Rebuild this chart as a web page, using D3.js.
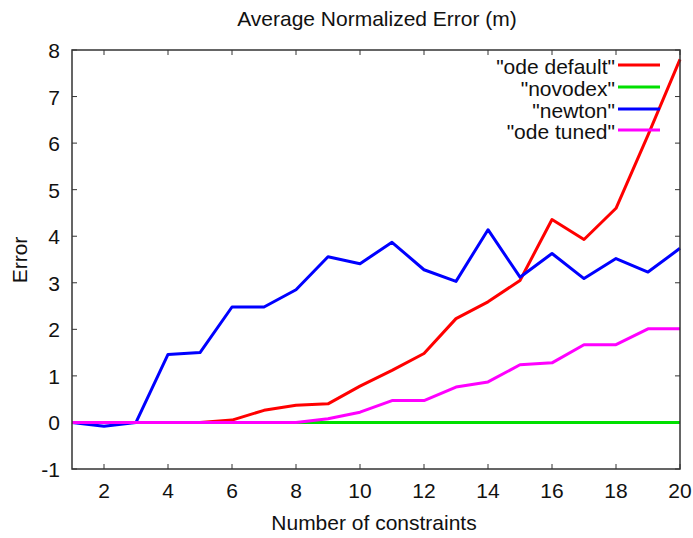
<!DOCTYPE html>
<html><head><meta charset="utf-8">
<script src="https://cdn.jsdelivr.net/npm/d3@7"></script>
<style>body{margin:0;background:#fff}svg{display:block}text{font-family:"Liberation Sans",Arial,sans-serif;fill:#111}</style>
</head><body><svg id="c" width="693" height="538"></svg>
<script>
const xs = [1,2,3,4,5,6,7,8,9,10,11,12,13,14,15,16,17,18,19,20];
const odeDefault = [0,0,0,0,0,0.05,0.26,0.37,0.40,0.78,1.12,1.48,2.23,2.59,3.05,4.36,3.93,4.60,6.17,7.80];
const novodex    = [0,0,0,0,0,0,0,0,0,0,0,0,0,0,0,0,0,0,0,0];
const newton     = [0,-0.08,0,1.46,1.50,2.48,2.48,2.85,3.56,3.41,3.87,3.28,3.03,4.14,3.12,3.63,3.09,3.52,3.23,3.74];
const odeTuned   = [0,0,0,0,0,0,0,0,0.08,0.22,0.47,0.47,0.76,0.87,1.24,1.28,1.67,1.67,2.01,2.01];
const seriesNames = ['"ode default"','"novodex"','"newton"','"ode tuned"'];
const seriesColors = ["#ff0000","#00e000","#0000ff","#ff00ff"];
const xTicks = [2,4,6,8,10,12,14,16,18,20];
const yTicks = [-1,0,1,2,3,4,5,6,7,8];

const svg = d3.select("#c");
const L=72,R=680,T=50,B=469;
const x = d3.scaleLinear().domain([1,20]).range([L,R]);
const y = d3.scaleLinear().domain([-1,8]).range([B,T]);
const fs = 21;

const tl=5;
const g = svg.append("g").attr("stroke","#333").attr("stroke-width",1);
xTicks.forEach(v=>{
  g.append("line").attr("x1",x(v)).attr("x2",x(v)).attr("y1",B).attr("y2",B-tl);
  g.append("line").attr("x1",x(v)).attr("x2",x(v)).attr("y1",T).attr("y2",T+tl);
});
yTicks.forEach(v=>{
  g.append("line").attr("x1",L).attr("x2",L+tl).attr("y1",y(v)).attr("y2",y(v));
  g.append("line").attr("x1",R).attr("x2",R-tl).attr("y1",y(v)).attr("y2",y(v));
});
svg.append("g").selectAll("text").data(xTicks).join("text")
  .attr("x",d=>x(d)).attr("y",498).attr("text-anchor","middle").attr("font-size",fs).text(d=>d);
svg.append("g").selectAll("text").data(yTicks).join("text")
  .attr("x",60).attr("y",d=>y(d)+8).attr("text-anchor","end").attr("font-size",fs).text(d=>d);

svg.append("text").attr("x",377).attr("y",26).attr("text-anchor","middle").attr("font-size",fs).text("Average Normalized Error (m)");
svg.append("text").attr("x",374).attr("y",530).attr("text-anchor","middle").attr("font-size",fs).text("Number of constraints");
svg.append("text").attr("transform","translate(27,260) rotate(-90)").attr("text-anchor","middle").attr("font-size",fs).text("Error");

const line = d3.line().x((d,i)=>x(xs[i])).y(d=>y(d));
const data=[odeDefault,novodex,newton,odeTuned];
data.forEach((s,i)=>{
  svg.append("path").attr("d",line(s)).attr("fill","none").attr("stroke",seriesColors[i]).attr("stroke-width",3).attr("stroke-linejoin","round");
});
const ly=[65,87,109,130];
seriesNames.forEach((n,i)=>{
  svg.append("text").attr("x",615).attr("y",ly[i]+9).attr("text-anchor","end").attr("font-size",fs).text(n);
  svg.append("line").attr("x1",618).attr("x2",660).attr("y1",ly[i]).attr("y2",ly[i]).attr("stroke",seriesColors[i]).attr("stroke-width",3);
});
svg.append("rect").attr("x",L).attr("y",T).attr("width",R-L).attr("height",B-T).attr("fill","none").attr("stroke","#333").attr("stroke-width",1.5);
</script></body></html>
